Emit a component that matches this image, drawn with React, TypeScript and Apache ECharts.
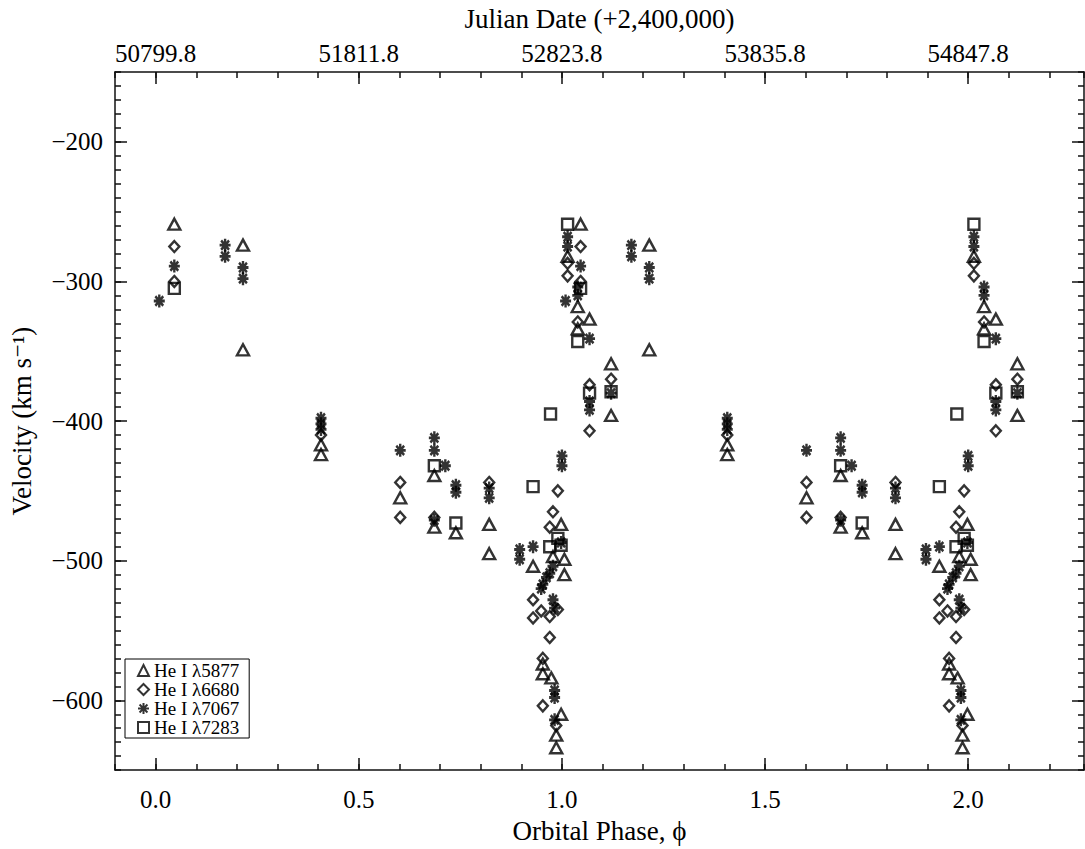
import React, { useEffect, useRef } from "react";
import * as echarts from "echarts";

// Tick values
const PHASE_TICKS = [0, 0.5, 1.0, 1.5, 2.0];
const VELOCITY_TICKS = [-600, -500, -400, -300, -200];
const JD_ZERO = 50799.8; // Julian date (+2,400,000) at phase 0
const JD_PERIOD = 2024; // days per orbital cycle
const SERIES_NAMES = ["He I λ5877", "He I λ6680", "He I λ7067", "He I λ7283"];

// [orbital phase, velocity km/s] ; each point is also drawn at phase + 1
const heI5877: number[][] = [
  [0.046, -259], [0.215, -274], [0.215, -349], [0.407, -417], [0.407, -424],
  [0.602, -455], [0.686, -439], [0.686, -476], [0.739, -480], [0.821, -474],
  [0.821, -495], [0.929, -504], [0.978, -497], [0.953, -574], [0.953, -581],
  [0.974, -584], [0.998, -474], [1.006, -499], [1.006, -510], [0.998, -610],
  [0.986, -625], [0.986, -634], [1.014, -282], [1.039, -318], [1.039, -334],
  [1.068, -327], [1.121, -359], [1.121, -396],
];
const heI6680: number[][] = [
  [0.046, -275], [0.046, -300], [0.407, -410], [0.602, -444], [0.602, -469],
  [0.686, -469], [0.821, -444], [0.990, -450], [0.978, -465], [0.970, -476],
  [0.929, -528], [0.949, -536], [0.970, -540], [0.990, -535], [0.929, -541],
  [0.970, -555], [0.953, -570], [0.953, -604], [0.986, -618], [1.014, -287],
  [1.014, -296], [1.039, -329], [1.068, -374], [1.068, -407], [1.121, -370],
];
const heI7067: number[][] = [
  [0.009, -314], [0.046, -289], [0.171, -274], [0.171, -282], [0.215, -290],
  [0.215, -298], [0.407, -398], [0.407, -402], [0.407, -406], [0.602, -421],
  [0.686, -412], [0.686, -421], [0.686, -471], [0.713, -432], [0.739, -446],
  [0.739, -451], [0.821, -448], [0.821, -455], [0.896, -492], [0.896, -499],
  [0.929, -490], [1.000, -425], [1.000, -432], [0.978, -504], [0.970, -509],
  [0.962, -512], [0.953, -517], [0.949, -520], [0.978, -528], [0.982, -534],
  [0.982, -593], [0.982, -598], [0.982, -614], [0.998, -487], [1.014, -268],
  [1.014, -275], [1.039, -304], [1.039, -310], [1.068, -341], [1.068, -386],
  [1.068, -392], [1.121, -380],
];
const heI7283: number[][] = [
  [0.046, -305], [0.686, -432], [0.739, -473], [0.929, -447], [0.972, -395],
  [0.990, -484], [0.998, -489], [0.970, -490], [1.014, -259], [1.039, -343],
  [1.068, -380], [1.121, -379],
];

const FONT = "'Liberation Serif', 'DejaVu Serif', serif";
const STAR_PATH =
  "path://M0,-6L0,6M-6,0L6,0M-4.3,-4.3L4.3,4.3M-4.3,4.3L4.3,-4.3";

const twoCycles = (arr: number[][]) => [
  ...arr,
  ...arr.map(([p, v]) => [p + 1, v]),
];

const X_MIN = -0.1;
const X_MAX = 2.285;
const Y_MIN = -650;
const Y_MAX = -150;

const lineStyle = { color: "#111", width: 1.5 };

export default function App() {
  const ref = useRef<HTMLDivElement>(null);

  useEffect(() => {
    if (!ref.current) return;
    const chart = echarts.init(ref.current, undefined, { renderer: "svg" });

    const labelStyle = { fontFamily: FONT, fontSize: 25, color: "#000" };
    const titleStyle = { fontFamily: FONT, fontSize: 27, color: "#000" };

    const xMajor = (position: "bottom" | "top", extra: any) => ({
      type: "value",
      min: X_MIN,
      max: X_MAX,
      position,
      axisLine: { show: true, onZero: false, lineStyle },
      axisTick: { show: true, inside: true, length: 12, customValues: PHASE_TICKS, lineStyle },
      splitLine: { show: false },
      ...extra,
    });
    const xMinor = (position: "bottom" | "top") => ({
      type: "value",
      min: X_MIN,
      max: X_MAX,
      interval: 0.1,
      position,
      axisLine: { show: false, onZero: false },
      axisTick: { show: true, inside: true, length: 6, lineStyle },
      axisLabel: { show: false },
      splitLine: { show: false },
    });
    const yMajor = (position: "left" | "right", extra: any) => ({
      type: "value",
      min: Y_MIN,
      max: Y_MAX,
      position,
      axisLine: { show: true, onZero: false, lineStyle },
      axisTick: { show: true, inside: true, length: 12, customValues: VELOCITY_TICKS, lineStyle },
      splitLine: { show: false },
      ...extra,
    });
    const yMinor = (position: "left" | "right") => ({
      type: "value",
      min: Y_MIN,
      max: Y_MAX,
      interval: 10,
      position,
      axisLine: { show: false, onZero: false },
      axisTick: { show: true, inside: true, length: 6, lineStyle },
      axisLabel: { show: false },
      splitLine: { show: false },
    });

    const base = {
      type: "scatter",
      xAxisIndex: 0,
      yAxisIndex: 0,
      itemStyle: { color: "rgba(0,0,0,0)", borderColor: "#000", borderWidth: 2.4 },
      emphasis: { disabled: true },
    };

    chart.setOption({
      animation: false,
      backgroundColor: "#fff",
      grid: { left: 112, right: 1, top: 62, bottom: 67 },
      legend: {
        left: 125,
        top: 659,
        orient: "vertical",
        data: SERIES_NAMES,
        backgroundColor: "#fff",
        borderColor: "#000",
        borderWidth: 1,
        borderRadius: 0,
        padding: [2, 10, 1, 12],
        itemWidth: 11,
        itemHeight: 11,
        itemGap: 0,
        selectedMode: false,
        textStyle: { fontFamily: FONT, fontSize: 19, lineHeight: 16, color: "#000" },
      },
      xAxis: [
        xMajor("bottom", {
          axisLabel: {
            customValues: PHASE_TICKS,
            formatter: (v: number) => v.toFixed(1),
            margin: 17,
            ...labelStyle,
          },
          name: "Orbital Phase, ϕ",
          nameLocation: "middle",
          nameGap: 46,
          nameTextStyle: titleStyle,
        }),
        xMinor("bottom"),
        xMajor("top", {
          axisLabel: {
            customValues: PHASE_TICKS,
            formatter: (v: number) => (JD_ZERO + v * JD_PERIOD).toFixed(1),
            margin: 6,
            ...labelStyle,
          },
          name: "Julian Date (+2,400,000)",
          nameLocation: "middle",
          nameGap: 40,
          nameTextStyle: titleStyle,
        }),
        xMinor("top"),
      ],
      yAxis: [
        yMajor("left", {
          axisLabel: {
            customValues: VELOCITY_TICKS,
            formatter: (v: number) => (v < 0 ? "−" + Math.abs(v) : String(v)),
            margin: 12,
            ...labelStyle,
          },
          name: "Velocity (km s⁻¹)",
          nameLocation: "middle",
          nameGap: 80,
          nameTextStyle: titleStyle,
        }),
        yMinor("left"),
        yMajor("right", { axisLabel: { show: false } }),
        yMinor("right"),
      ],
      series: [
        { ...base, name: SERIES_NAMES[0], symbol: "triangle", symbolSize: [12, 11], data: twoCycles(heI5877) },
        { ...base, name: SERIES_NAMES[1], symbol: "diamond", symbolSize: [10, 11], data: twoCycles(heI6680) },
        {
          ...base,
          name: SERIES_NAMES[2],
          symbol: STAR_PATH,
          symbolSize: [11, 13],
          itemStyle: { color: "rgba(0,0,0,0)", borderColor: "#000", borderWidth: 2.6 },
          data: twoCycles(heI7067),
        },
        { ...base, name: SERIES_NAMES[3], symbol: "rect", symbolSize: [11, 11], data: twoCycles(heI7283) },
      ],
    });

    return () => chart.dispose();
  }, []);

  return (
    <div
      ref={ref}
      style={{ position: "absolute", left: 0, top: 0, width: 1085, height: 849 }}
    />
  );
}
